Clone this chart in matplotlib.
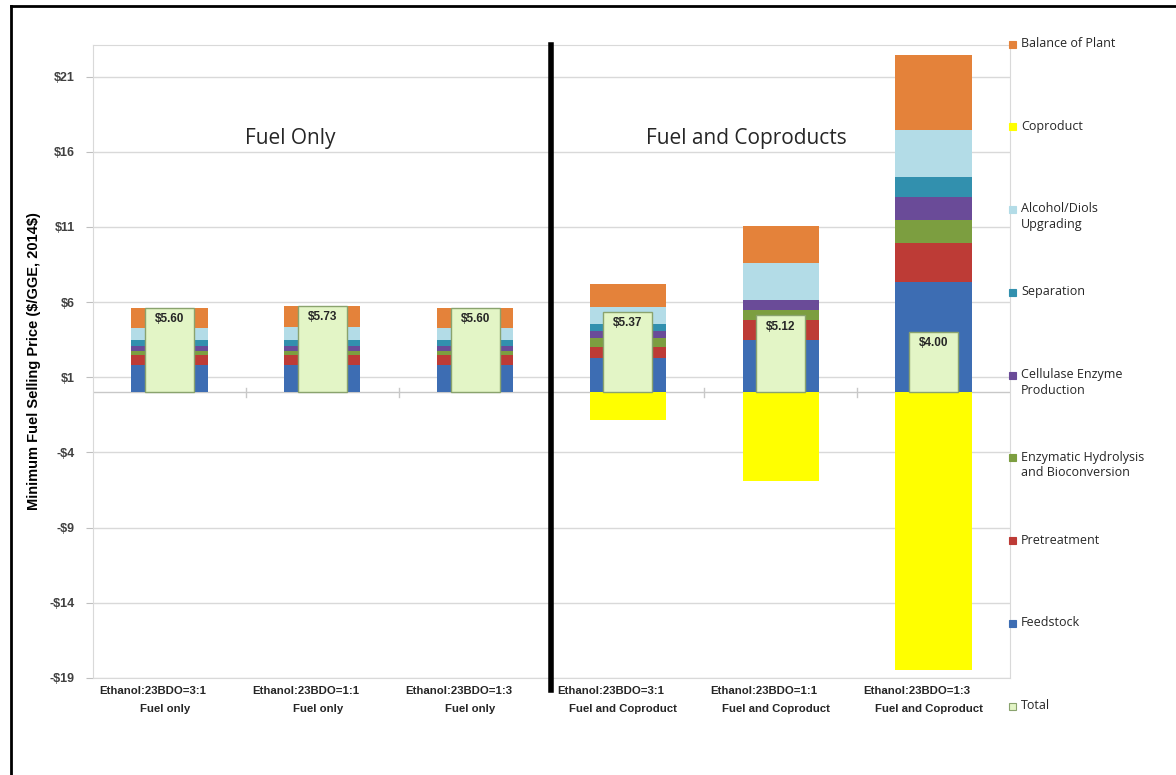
import numpy as np
import matplotlib
matplotlib.use('Agg')
import matplotlib.pyplot as plt
from matplotlib.patches import Rectangle
from matplotlib.lines import Line2D

#%% data: MFSP cost contributions ($/GGE, 2014$)
categories = ['Ethanol:23BDO=3:1', 'Ethanol:23BDO=1:1', 'Ethanol:23BDO=1:3',
              'Ethanol:23BDO=3:1', 'Ethanol:23BDO=1:1', 'Ethanol:23BDO=1:3']
cases = ['Fuel only', 'Fuel only', 'Fuel only',
         'Fuel and Coproduct', 'Fuel and Coproduct', 'Fuel and Coproduct']

feedstock    = [1.80, 1.80, 1.80, 2.27, 3.47, 7.36]
pretreatment = [0.65, 0.65, 0.65, 0.73, 1.33, 2.55]
enz_hydro    = [0.30, 0.30, 0.30, 0.60, 0.67, 1.56]
cellulase    = [0.35, 0.35, 0.35, 0.50, 0.67, 1.55]
separation   = [0.35, 0.35, 0.35, 0.45, 0.00, 1.33]
upgrading    = [0.85, 0.88, 0.85, 1.15, 2.45, 3.10]
coproduct    = [0.00, 0.00, 0.00, -1.85, -5.91, -18.45]
bop          = [1.30, 1.40, 1.30, 1.52, 2.44, 5.00]
total        = [5.60, 5.73, 5.60, 5.37, 5.12, 4.00]

yticks = [-19, -14, -9, -4, 1, 6, 11, 16, 21]

#%% styling
lib = ['Liberation Sans', 'DejaVu Sans']
plain = ['Open Sans', 'DejaVu Sans']
c_txt = '#262626'

stack = [
    ('Feedstock', feedstock, '#3d6db3'),
    ('Pretreatment', pretreatment, '#bd3b36'),
    ('Enzymatic Hydrolysis\nand Bioconversion', enz_hydro, '#7c9e40'),
    ('Cellulase Enzyme\nProduction', cellulase, '#6a4b98'),
    ('Separation', separation, '#3290ae'),
    ('Alcohol/Diols\nUpgrading', upgrading, '#b3dce7'),
    ('Coproduct', coproduct, '#ffff00'),
    ('Balance of Plant', bop, '#e4823a'),
]

W, H = 1176, 775
fig = plt.figure(figsize=(W/100, H/100), dpi=100)
ax = fig.add_axes([93/W, 1 - 678/H, 917/W, 633/H])

x = np.arange(len(categories))
bottom = np.zeros(len(x))
for name, vals, col in stack:
    vals = np.array(vals)
    if name == 'Coproduct':
        ax.bar(x, vals, 0.5, bottom=0, color=col, zorder=2)
        continue
    ax.bar(x, vals, 0.5, bottom=bottom, color=col, zorder=2)
    bottom += vals

# total boxes with value labels
ax.bar(x, total, 0.32, color='#e3f5c6', edgecolor='#8aa36e', lw=1.0, zorder=3)
for xi, t in zip(x, total):
    ax.text(xi, t - 0.35, f'${t:.2f}', ha='center', va='top', fontsize=8.5,
            fontweight='bold', color=c_txt, family=lib, zorder=4)

ax.set_xlim(-0.5, 5.5)
ax.set_ylim(-19, 23.1)
ax.set_yticks(yticks)
ax.set_yticklabels([f'${v}' if v >= 0 else f'-${-v}' for v in yticks],
                   fontsize=9, fontweight='bold', color='#404040', family=lib)
ax.tick_params(axis='y', length=5, color='#bfbfbf', pad=8)
ax.grid(axis='y', color='#d9d9d9', lw=1.0, zorder=0)
ax.set_axisbelow(True)
ax.axhline(0, color='#c8c8c8', lw=1.0, zorder=1)
for s in ax.spines.values():
    s.set_color('#d9d9d9')

# category labels, two lines each
ax.set_xticks([])
for xi, (cat, case) in enumerate(zip(categories, cases)):
    ax.text(xi - 0.11, -19.85, cat, ha='center', va='center', fontsize=8.2,
            fontweight='bold', color=c_txt, family=lib, clip_on=False)
    ax.text(xi - 0.03, -21.05, case, ha='center', va='center', fontsize=8.2,
            fontweight='bold', color=c_txt, family=lib, clip_on=False)
# small category-boundary ticks on the zero axis
for b in np.arange(0.5, 5.5, 1.0):
    ax.plot([b, b], [-0.3, 0.3], color='#c8c8c8', lw=1.0, zorder=1)

# divider between the two groups
ax.plot([2.5, 2.5], [-19.8, 23.1], color='black', lw=4, clip_on=False, zorder=5)

ax.text(0.215, 0.853, 'Fuel Only', transform=ax.transAxes, ha='center', va='center',
        fontsize=15, color=c_txt, family=plain)
ax.text(0.712, 0.853, 'Fuel and Coproducts', transform=ax.transAxes, ha='center',
        va='center', fontsize=15, color=c_txt, family=plain)

ax.set_ylabel('Minimum Fuel Selling Price (\\$/GGE, 2014\\$)', fontsize=10.5,
              fontweight='bold', color='black', family=lib, labelpad=6)

# legend down the right side
legend_items = [(n, c) for n, v, c in stack[::-1]] + [('Total', '#e3f5c6')]
for i, (name, col) in enumerate(legend_items):
    yy = 44 + i * 82.75
    ec = '#8aa36e' if name == 'Total' else col
    fig.patches.append(Rectangle((1009/W, 1 - (yy + 3.5)/H), 7/W, 7/H, facecolor=col,
                                 edgecolor=ec, lw=0.8, transform=fig.transFigure,
                                 figure=fig))
    fig.text(1021/W, 1 - (yy - 7)/H, name, ha='left', va='top', fontsize=9,
             color=c_txt, family=plain, linespacing=1.25)

# outer frame (left and top edges)
fig.add_artist(Line2D([11/W, 11/W], [0, 1 - 6/H], color='black', lw=2))
fig.add_artist(Line2D([11/W, 1], [1 - 6/H, 1 - 6/H], color='black', lw=2))

fig.savefig('out.png', dpi=100, facecolor='white')
